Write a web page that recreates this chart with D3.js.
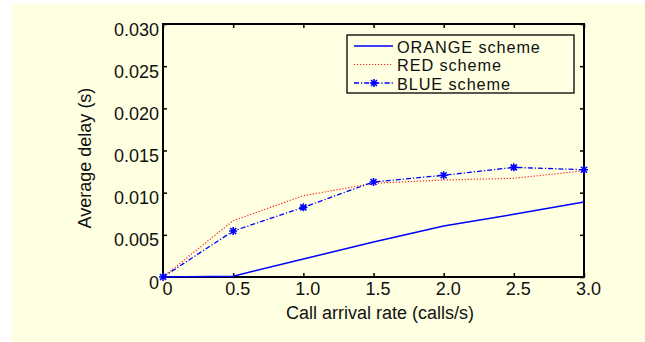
<!DOCTYPE html>
<html><head><meta charset="utf-8">
<script src="https://cdn.jsdelivr.net/npm/d3@7"></script>
<style>
html,body{margin:0;padding:0;background:#fff;}
svg{display:block;font-family:"Liberation Sans",Arial,Helvetica,sans-serif;}
</style></head>
<body><svg id="c" width="645" height="342"></svg>
<script>
const xValues = [0, 0.5, 1.0, 1.5, 2.0, 2.5, 3.0];
const orange = [0, 0.0001, 0.00213, 0.00415, 0.00605, 0.00743, 0.0089];
const red    = [0, 0.00668, 0.00964, 0.01111, 0.0115, 0.0117, 0.0126];
const blue   = [0, 0.00545, 0.00826, 0.01127, 0.01206, 0.0130, 0.01272];
const xTickValues = [0, 0.5, 1.0, 1.5, 2.0, 2.5, 3.0];
const xTickLabels = ["0", "0.5", "1.0", "1.5", "2.0", "2.5", "3.0"];
const yTickValues = [0, 0.005, 0.010, 0.015, 0.020, 0.025, 0.030];
const yTickLabels = ["0", "0.005", "0.010", "0.015", "0.020", "0.025", "0.030"];
const seriesNames = ["ORANGE scheme", "RED scheme", "BLUE scheme"];

const svg = d3.select("#c");
const bg = "#ffffe1";
svg.append("rect").attr("x", 12).attr("y", 4).attr("width", 633).attr("height", 338).attr("fill", bg);

const L = 163, R = 584, T = 24, B = 277;
const x = d3.scaleLinear().domain([0, 3]).range([L, R]);
const y = d3.scaleLinear().domain([0, 0.03]).range([B, T]);

const fs = 18;
// axes
const gB = svg.append("g").attr("transform", `translate(0,${B})`)
  .call(d3.axisBottom(x).tickValues(xTickValues).tickSizeInner(-4).tickSizeOuter(0)
    .tickFormat((d, i) => xTickLabels[i]));
gB.selectAll("text").attr("y", 18).attr("dy", 0).attr("dx", 4);
const gT = svg.append("g").attr("transform", `translate(0,${T})`)
  .call(d3.axisTop(x).tickValues(xTickValues).tickSizeInner(-4).tickSizeOuter(0).tickFormat(""));
const gL = svg.append("g").attr("transform", `translate(${L},0)`)
  .call(d3.axisLeft(y).tickValues(yTickValues).tickSizeInner(-4).tickSizeOuter(0)
    .tickFormat((d, i) => yTickLabels[i]));
gL.selectAll("text").attr("x", -4).attr("dy", 0).attr("y", 11);
const gR = svg.append("g").attr("transform", `translate(${R},0)`)
  .call(d3.axisRight(y).tickValues(yTickValues).tickSizeInner(-4).tickSizeOuter(0).tickFormat(""));
[gB, gT, gL, gR].forEach(g => {
  g.select(".domain").remove();
  g.selectAll("line").attr("stroke", "#000").attr("stroke-width", 1.5);
  g.selectAll("text").attr("font-size", fs).attr("fill", "#111")
    .attr("font-family", "'Liberation Sans',Arial,Helvetica,sans-serif");
});
svg.append("rect").attr("x", L).attr("y", T).attr("width", R - L).attr("height", B - T)
  .attr("fill", "none").attr("stroke", "#000").attr("stroke-width", 2);

// axis titles
svg.append("text").attr("x", 380).attr("y", 319).attr("text-anchor", "middle")
  .attr("font-size", fs).attr("fill", "#111").text("Call arrival rate (calls/s)");
svg.append("text").attr("transform", "translate(91,158) rotate(-90)").attr("text-anchor", "middle")
  .attr("font-size", fs).attr("fill", "#111").text("Average delay (s)");

// lines
const line = d3.line().x((d, i) => x(xValues[i])).y(d => y(d));
const styles = [
  {data: orange, color: "#0000ff", w: 1.5, dash: null, marker: false},
  {data: red, color: "#ff2020", w: 1.2, dash: "1.2,1.8", marker: false},
  {data: blue, color: "#0000ff", w: 1.3, dash: "5,2,1.2,2", marker: true}
];
function star(g, cx, cy, c) {
  const s = 4, d = 3;
  const p = `M${cx - s},${cy}L${cx + s},${cy}M${cx},${cy - s}L${cx},${cy + s}` +
    `M${cx - d},${cy - d}L${cx + d},${cy + d}M${cx - d},${cy + d}L${cx + d},${cy - d}`;
  g.append("path").attr("d", p).attr("stroke", c).attr("stroke-width", 1.6).attr("fill", "none");
}
styles.forEach(s => {
  const p = svg.append("path").datum(s.data).attr("d", line).attr("fill", "none")
    .attr("stroke", s.color).attr("stroke-width", s.w);
  if (s.dash) p.attr("stroke-dasharray", s.dash);
  if (s.marker) {
    const g = svg.append("g");
    s.data.forEach((v, i) => star(g, x(xValues[i]), y(v), s.color));
  }
});

// legend
svg.append("rect").attr("x", 347).attr("y", 35).attr("width", 227).attr("height", 58)
  .attr("fill", bg).attr("stroke", "#000").attr("stroke-width", 1.3);
const rowY = [46, 64.5, 83];
const lfs = 16.3;
styles.forEach((s, i) => {
  const ly = rowY[i];
  const l = svg.append("line").attr("x1", 354).attr("x2", 393).attr("y1", ly).attr("y2", ly)
    .attr("stroke", s.color).attr("stroke-width", s.w);
  if (s.dash) l.attr("stroke-dasharray", s.dash);
  if (s.marker) star(svg, 374, ly, s.color);
  svg.append("text").attr("x", 397).attr("y", ly + 6.5).attr("font-size", lfs)
    .attr("letter-spacing", 0.9).attr("fill", "#111")
    .text(seriesNames[i]);
});
</script></body></html>
